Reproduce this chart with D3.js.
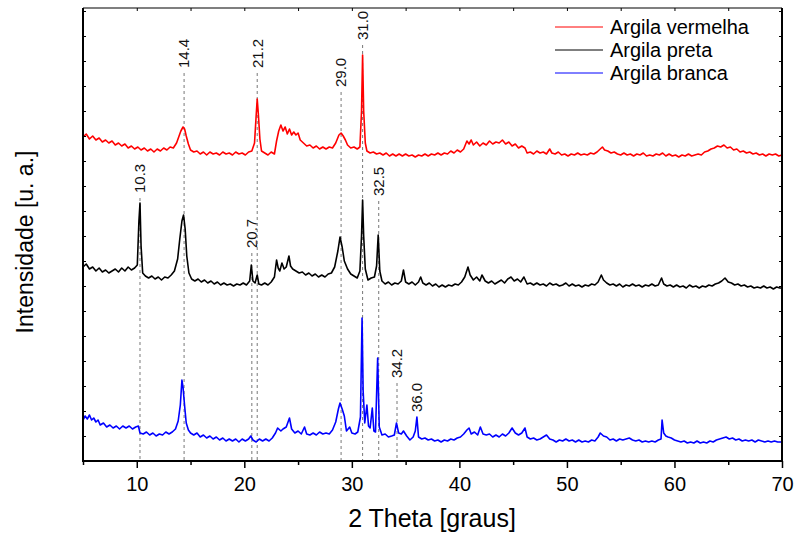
<!DOCTYPE html>
<html>
<head>
<meta charset="utf-8">
<script src="https://cdn.jsdelivr.net/npm/d3@7"></script>
<style>
  body { margin: 0; background: #fff; }
  svg { font-family: Arial, "Liberation Sans", sans-serif; }
</style>
</head>
<body>
<svg id="chart" width="795" height="536"></svg>
<script>
// XRD patterns, values (stacked, arbitrary units)
const seriesNames = ["Argila vermelha", "Argila preta", "Argila branca"];
const seriesColors = ["#ff0000", "#000000", "#0000ff"];

const redData = [
  [5.0,324],[5.3,327],[5.6,322],[5.9,325],[6.2,321],[6.5,323],[6.8,319],[7.1,321],[7.4,318],[7.7,320],
  [8.0,316],[8.3,318],[8.6,315],[8.9,317],[9.2,313],[9.5,315],[9.8,312],[10.1,314],[10.4,311],[10.7,313],
  [11.0,310],[11.3,312],[11.6,309],[11.9,312],[12.2,310],[12.5,313],[12.8,311],[13.1,314],[13.4,313],[13.7,318],
  [13.9,324],[14.1,330],[14.3,334],[14.45,332],[14.6,325],[14.8,317],[15.0,311],[15.3,309],[15.6,310],[15.9,307],
  [16.2,309],[16.5,306],[16.8,309],[17.1,307],[17.4,308],[17.7,306],[18.0,309],[18.3,307],[18.6,308],[18.9,306],
  [19.2,309],[19.5,307],[19.8,308],[20.1,306],[20.4,309],[20.7,310],[20.95,318],[21.1,345],[21.2,362],[21.3,348],
  [21.45,322],[21.6,310],[21.9,308],[22.2,306],[22.5,309],[22.8,307],[23.0,320],[23.2,330],[23.4,336],[23.6,330],
  [23.8,334],[24.0,327],[24.2,332],[24.4,326],[24.6,329],[24.8,326],[25.0,328],[25.2,321],[25.5,318],[25.8,315],
  [26.1,316],[26.4,313],[26.7,315],[27.0,312],[27.3,314],[27.6,312],[27.9,314],[28.2,313],[28.5,318],[28.8,326],
  [29.0,328],[29.2,325],[29.4,321],[29.6,316],[29.9,313],[30.2,314],[30.5,312],[30.75,314],[30.9,350],[31.0,406],
  [31.1,350],[31.25,318],[31.4,310],[31.7,308],[32.0,309],[32.3,307],[32.6,308],[32.9,306],[33.2,308],[33.5,305],
  [33.8,307],[34.1,305],[34.4,307],[34.7,305],[35.0,307],[35.3,305],[35.6,306],[35.9,304],[36.2,306],[36.5,305],
  [36.8,307],[37.1,305],[37.4,307],[37.7,306],[38.0,308],[38.3,306],[38.6,308],[38.9,307],[39.2,310],[39.5,308],
  [39.8,311],[40.1,309],[40.4,312],[40.7,320],[40.9,317],[41.1,321],[41.3,316],[41.6,319],[41.9,315],[42.2,318],
  [42.5,316],[42.8,320],[43.1,317],[43.4,319],[43.7,318],[44.0,321],[44.3,317],[44.6,319],[44.9,315],[45.2,317],
  [45.5,313],[45.8,315],[46.1,313],[46.3,308],[46.6,309],[46.9,307],[47.2,310],[47.5,308],[47.8,309],[48.1,307],
  [48.4,312],[48.6,308],[48.9,307],[49.2,309],[49.5,306],[49.8,307],[50.1,305],[50.4,307],[50.7,306],[51.0,308],
  [51.3,306],[51.6,307],[51.9,306],[52.2,308],[52.5,307],[52.8,309],[53.1,312],[53.3,314],[53.5,311],[53.8,310],
  [54.1,308],[54.4,309],[54.7,307],[55.0,306],[55.3,308],[55.6,306],[55.9,307],[56.2,305],[56.5,307],[56.8,306],
  [57.1,308],[57.4,305],[57.7,306],[58.0,305],[58.3,307],[58.6,306],[58.9,308],[59.2,305],[59.5,307],[59.8,305],
  [60.1,306],[60.4,304],[60.7,306],[61.0,305],[61.3,307],[61.6,305],[61.9,306],[62.2,307],[62.5,306],[62.8,309],
  [63.1,310],[63.4,312],[63.7,313],[64.0,315],[64.3,314],[64.6,316],[64.9,313],[65.2,314],[65.5,311],[65.8,312],
  [66.1,309],[66.4,310],[66.7,308],[67.0,309],[67.3,307],[67.6,308],[67.9,306],[68.2,307],[68.5,305],[68.8,307],
  [69.1,306],[69.4,307],[69.7,305],[70.0,306]
];

const blackData = [
  [5.0,194],[5.3,197],[5.6,192],[5.9,194],[6.2,190],[6.5,193],[6.8,189],[7.1,191],[7.4,188],[7.7,190],
  [8.0,192],[8.3,189],[8.6,193],[8.9,190],[9.2,194],[9.5,191],[9.8,193],[10.05,196],[10.2,240],[10.3,258],
  [10.4,215],[10.55,188],[10.8,185],[11.1,183],[11.4,185],[11.7,182],[12.0,184],[12.3,181],[12.6,184],[12.9,183],
  [13.2,186],[13.5,190],[13.8,202],[14.0,222],[14.2,240],[14.35,246],[14.5,232],[14.65,205],[14.85,188],[15.1,182],
  [15.4,180],[15.7,182],[16.0,179],[16.3,181],[16.6,178],[16.9,180],[17.2,177],[17.5,179],[17.8,176],[18.1,178],
  [18.4,176],[18.7,177],[19.0,175],[19.3,177],[19.6,176],[19.9,178],[20.2,176],[20.5,180],[20.65,196],[20.8,180],
  [21.0,178],[21.2,186],[21.35,177],[21.6,176],[21.9,178],[22.2,176],[22.5,179],[22.8,184],[23.0,201],[23.15,193],
  [23.3,190],[23.5,198],[23.7,192],[23.9,194],[24.15,205],[24.3,195],[24.5,192],[24.8,190],[25.1,188],[25.4,189],
  [25.7,186],[26.0,188],[26.3,185],[26.6,187],[26.9,184],[27.2,186],[27.5,184],[27.8,187],[28.1,188],[28.4,194],
  [28.7,210],[28.9,224],[29.1,214],[29.3,200],[29.6,192],[29.9,187],[30.2,185],[30.5,183],[30.75,190],[30.9,225],
  [31.0,261],[31.1,225],[31.25,192],[31.5,181],[31.8,183],[32.1,184],[32.3,195],[32.45,226],[32.6,190],[32.8,180],
  [33.1,177],[33.4,179],[33.7,176],[34.0,178],[34.3,177],[34.6,180],[34.8,191],[35.0,179],[35.3,177],[35.6,179],
  [35.9,176],[36.2,179],[36.4,184],[36.6,178],[36.9,176],[37.2,178],[37.5,175],[37.8,177],[38.1,174],[38.4,176],
  [38.7,174],[39.0,176],[39.3,175],[39.6,177],[39.9,176],[40.2,179],[40.5,184],[40.8,194],[41.0,186],[41.3,181],
  [41.6,184],[41.9,180],[42.1,186],[42.4,180],[42.7,178],[43.0,180],[43.3,177],[43.6,179],[43.9,181],[44.2,178],
  [44.5,182],[44.8,184],[45.1,180],[45.4,182],[45.7,179],[46.0,184],[46.3,177],[46.6,178],[46.9,176],[47.2,178],
  [47.5,176],[47.8,177],[48.1,175],[48.4,178],[48.7,176],[49.0,177],[49.3,175],[49.6,176],[49.9,178],[50.2,175],
  [50.5,177],[50.8,175],[51.1,176],[51.4,174],[51.7,176],[52.0,175],[52.3,177],[52.6,176],[52.9,179],[53.2,186],
  [53.4,181],[53.7,178],[54.0,176],[54.3,177],[54.6,175],[54.9,177],[55.2,174],[55.5,176],[55.8,175],[56.1,177],
  [56.4,175],[56.7,176],[57.0,174],[57.3,176],[57.6,175],[57.9,177],[58.2,175],[58.5,176],[58.8,183],[59.0,177],
  [59.3,175],[59.6,176],[59.9,174],[60.2,176],[60.5,174],[60.8,175],[61.1,173],[61.4,176],[61.7,174],[62.0,175],
  [62.3,173],[62.6,175],[62.9,174],[63.2,176],[63.5,175],[63.8,177],[64.1,178],[64.4,180],[64.7,183],[65.0,179],
  [65.3,178],[65.6,176],[65.9,177],[66.2,175],[66.5,176],[66.8,174],[67.1,175],[67.4,173],[67.7,174],[68.0,173],
  [68.3,175],[68.6,173],[68.9,174],[69.2,172],[69.5,174],[69.8,173],[70.0,173]
];

const blueData = [
  [5.0,41],[5.2,45],[5.4,42],[5.6,46],[5.8,41],[6.0,43],[6.2,39],[6.4,41],[6.6,36],[6.9,38],
  [7.2,34],[7.5,36],[7.8,33],[8.1,35],[8.4,32],[8.7,35],[9.0,33],[9.3,35],[9.6,32],[9.9,34],
  [10.15,35],[10.3,28],[10.6,27],[10.9,29],[11.2,26],[11.5,28],[11.8,25],[12.1,27],[12.4,26],[12.7,29],
  [13.0,27],[13.3,29],[13.6,32],[13.85,40],[14.05,56],[14.2,81],[14.3,74],[14.45,55],[14.6,38],[14.8,31],
  [15.0,28],[15.3,26],[15.6,28],[15.9,24],[16.2,26],[16.5,23],[16.8,25],[17.1,22],[17.4,24],[17.7,21],
  [18.0,23],[18.3,20],[18.6,22],[18.9,20],[19.2,22],[19.5,19],[19.8,22],[20.1,20],[20.4,22],[20.6,25],
  [20.8,21],[21.1,19],[21.4,22],[21.7,20],[22.0,22],[22.3,20],[22.6,23],[22.9,28],[23.1,33],[23.4,30],
  [23.6,32],[23.9,34],[24.2,43],[24.4,32],[24.7,28],[25.0,30],[25.3,27],[25.6,34],[25.8,27],[26.1,26],
  [26.4,28],[26.7,26],[27.0,29],[27.3,27],[27.6,28],[27.9,27],[28.2,31],[28.5,39],[28.75,52],[28.9,58],
  [29.1,52],[29.3,45],[29.5,30],[29.8,34],[30.0,28],[30.3,27],[30.55,29],[30.8,44],[30.95,143],[31.05,70],
  [31.2,38],[31.4,56],[31.55,35],[31.7,33],[31.9,53],[32.05,30],[32.2,29],[32.4,103],[32.55,34],[32.8,26],
  [33.1,27],[33.4,24],[33.7,25],[33.95,26],[34.15,38],[34.35,28],[34.6,27],[34.8,30],[35.1,25],[35.4,21],
  [35.7,24],[35.9,30],[36.05,44],[36.2,24],[36.5,22],[36.8,23],[37.1,21],[37.4,22],[37.7,20],[38.0,21],
  [38.3,19],[38.6,21],[38.9,20],[39.2,22],[39.5,21],[39.8,23],[40.1,24],[40.4,27],[40.7,31],[40.9,33],
  [41.1,27],[41.4,29],[41.7,26],[41.95,34],[42.2,27],[42.5,26],[42.8,27],[43.1,24],[43.4,26],[43.7,24],
  [44.0,27],[44.3,25],[44.6,28],[44.9,33],[45.2,28],[45.5,26],[45.8,28],[46.1,33],[46.3,24],[46.6,22],
  [46.9,23],[47.2,21],[47.5,22],[47.8,24],[48.1,26],[48.4,22],[48.7,21],[49.0,19],[49.3,21],[49.6,20],
  [49.9,22],[50.2,20],[50.5,21],[50.8,19],[51.1,21],[51.4,19],[51.7,20],[52.0,19],[52.3,21],[52.6,20],
  [52.9,24],[53.1,28],[53.4,25],[53.7,24],[54.0,21],[54.3,22],[54.6,20],[54.9,22],[55.2,21],[55.5,22],
  [55.8,23],[56.1,21],[56.4,20],[56.7,21],[57.0,19],[57.3,20],[57.6,19],[57.9,20],[58.2,19],[58.5,21],
  [58.75,22],[58.85,41],[59.0,28],[59.2,25],[59.4,24],[59.7,23],[60.0,21],[60.3,20],[60.6,19],[60.9,20],
  [61.2,18],[61.5,19],[61.8,18],[62.1,20],[62.4,18],[62.7,19],[63.0,18],[63.3,20],[63.6,19],[63.9,21],
  [64.2,22],[64.5,23],[64.8,24],[65.1,22],[65.4,23],[65.7,21],[66.0,22],[66.3,20],[66.6,21],[66.9,20],
  [67.2,21],[67.5,19],[67.8,21],[68.1,20],[68.4,19],[68.7,20],[69.0,19],[69.3,20],[69.6,19],[70.0,19]
];

// peak annotations: angle, label text, where the label starts (a.u.), dashed guide or not
const peakAngles = [10.3, 14.4, 20.7, 21.2, 29.0, 31.0, 32.5, 34.2, 36.0];
const peakLabels = ["10.3", "14.4", "20.7", "21.2", "29.0", "31.0", "32.5", "34.2", "36.0"];
const peakLabelLevels = [268, 393, 213, 393, 374, 421, 265, 83, 49];
const peakHasGuide = [true, true, true, true, true, true, true, true, false];

const xTicks = [10, 20, 30, 40, 50, 60, 70];
const xMinorTicks = [5, 15, 25, 35, 45, 55, 65];

const margin = { top: 8, right: 13, bottom: 75, left: 83 };
const svg = d3.select("#chart");
const width = +svg.attr("width") - margin.left - margin.right;
const height = +svg.attr("height") - margin.top - margin.bottom;

const x = d3.scaleLinear().domain([5, 70]).range([0, width]);
const y = d3.scaleLinear().domain([0, height]).range([height, 0]);

const g = svg.append("g").attr("transform", `translate(${margin.left},${margin.top})`);

// dashed guides + labels
peakAngles.forEach((a, i) => {
  const px = x(a);
  const py = y(peakLabelLevels[i]);
  if (peakHasGuide[i]) {
    g.append("line")
      .attr("x1", px).attr("x2", px)
      .attr("y1", py + 5).attr("y2", height)
      .attr("stroke", "#777")
      .attr("stroke-width", 1)
      .attr("stroke-dasharray", "3,3");
  }
  g.append("text")
    .attr("transform", `translate(${px},${py}) rotate(-90)`)
    .attr("dy", "0.36em")
    .attr("font-size", 15)
    .attr("fill", "#111")
    .text(peakLabels[i]);
});

// traces
const line = d3.line().x(d => x(d[0])).y(d => y(d[1]));
[redData, blackData, blueData].forEach((data, i) => {
  g.append("path")
    .datum(data)
    .attr("fill", "none")
    .attr("stroke", seriesColors[i])
    .attr("stroke-width", 1.6)
    .attr("stroke-linejoin", "round")
    .attr("d", line);
});

// axes
const bottom = g.append("g").attr("transform", `translate(0,${height})`)
  .call(d3.axisBottom(x).tickValues(xTicks).tickSize(7).tickSizeOuter(0).tickPadding(9).tickFormat(d3.format("d")));
bottom.select(".domain").remove();
bottom.selectAll("line").attr("stroke-width", 1.5);
bottom.selectAll("text").attr("font-size", 20).attr("font-family", "Arial, 'Liberation Sans', sans-serif").attr("fill", "#000");

g.append("g").attr("transform", `translate(0,${height})`)
  .call(d3.axisBottom(x).tickValues(xMinorTicks).tickSize(4).tickSizeOuter(0).tickFormat(""))
  .call(s => s.select(".domain").remove())
  .selectAll("line").attr("stroke-width", 1.5);

// top ticks (inside)
g.append("g")
  .call(d3.axisTop(x).tickValues(xTicks.concat(xMinorTicks)).tickSize(-3).tickSizeOuter(0).tickFormat(""))
  .call(s => s.select(".domain").remove());

// left / right ticks (inside)
const yTicks = d3.range(0, height, 25);
g.append("g")
  .call(d3.axisLeft(y).tickValues(yTicks).tickSize(-3).tickSizeOuter(0).tickFormat(""))
  .call(s => s.select(".domain").remove());
g.append("g").attr("transform", `translate(${width},0)`)
  .call(d3.axisRight(y).tickValues(yTicks).tickSize(-3).tickSizeOuter(0).tickFormat(""))
  .call(s => s.select(".domain").remove());

// frame
g.append("line").attr("x1", 0).attr("x2", width).attr("y1", 0).attr("y2", 0).attr("stroke", "#000").attr("stroke-width", 1.2);
g.append("line").attr("x1", 0).attr("x2", width).attr("y1", height).attr("y2", height).attr("stroke", "#000").attr("stroke-width", 2);
g.append("line").attr("x1", 0).attr("x2", 0).attr("y1", 0).attr("y2", height + 1).attr("stroke", "#000").attr("stroke-width", 2);
g.append("line").attr("x1", width).attr("x2", width).attr("y1", 0).attr("y2", height + 1).attr("stroke", "#000").attr("stroke-width", 2);

// axis titles
svg.append("text")
  .attr("x", 432)
  .attr("y", 527)
  .attr("text-anchor", "middle")
  .attr("font-size", 25)
  .text("2 Theta [graus]");

svg.append("text")
  .attr("transform", `translate(33,242) rotate(-90)`)
  .attr("text-anchor", "middle")
  .attr("font-size", 23)
  .text("Intensidade [u. a.]");

// legend
const legend = svg.append("g");
seriesNames.forEach((name, i) => {
  const ly = 27 + i * 23;
  legend.append("line")
    .attr("x1", 555).attr("x2", 603)
    .attr("y1", ly).attr("y2", ly)
    .attr("stroke", seriesColors[i])
    .attr("stroke-width", 1);
  legend.append("text")
    .attr("x", 610).attr("y", ly + 7)
    .attr("font-size", 20)
    .text(name);
});
</script>
</body>
</html>
